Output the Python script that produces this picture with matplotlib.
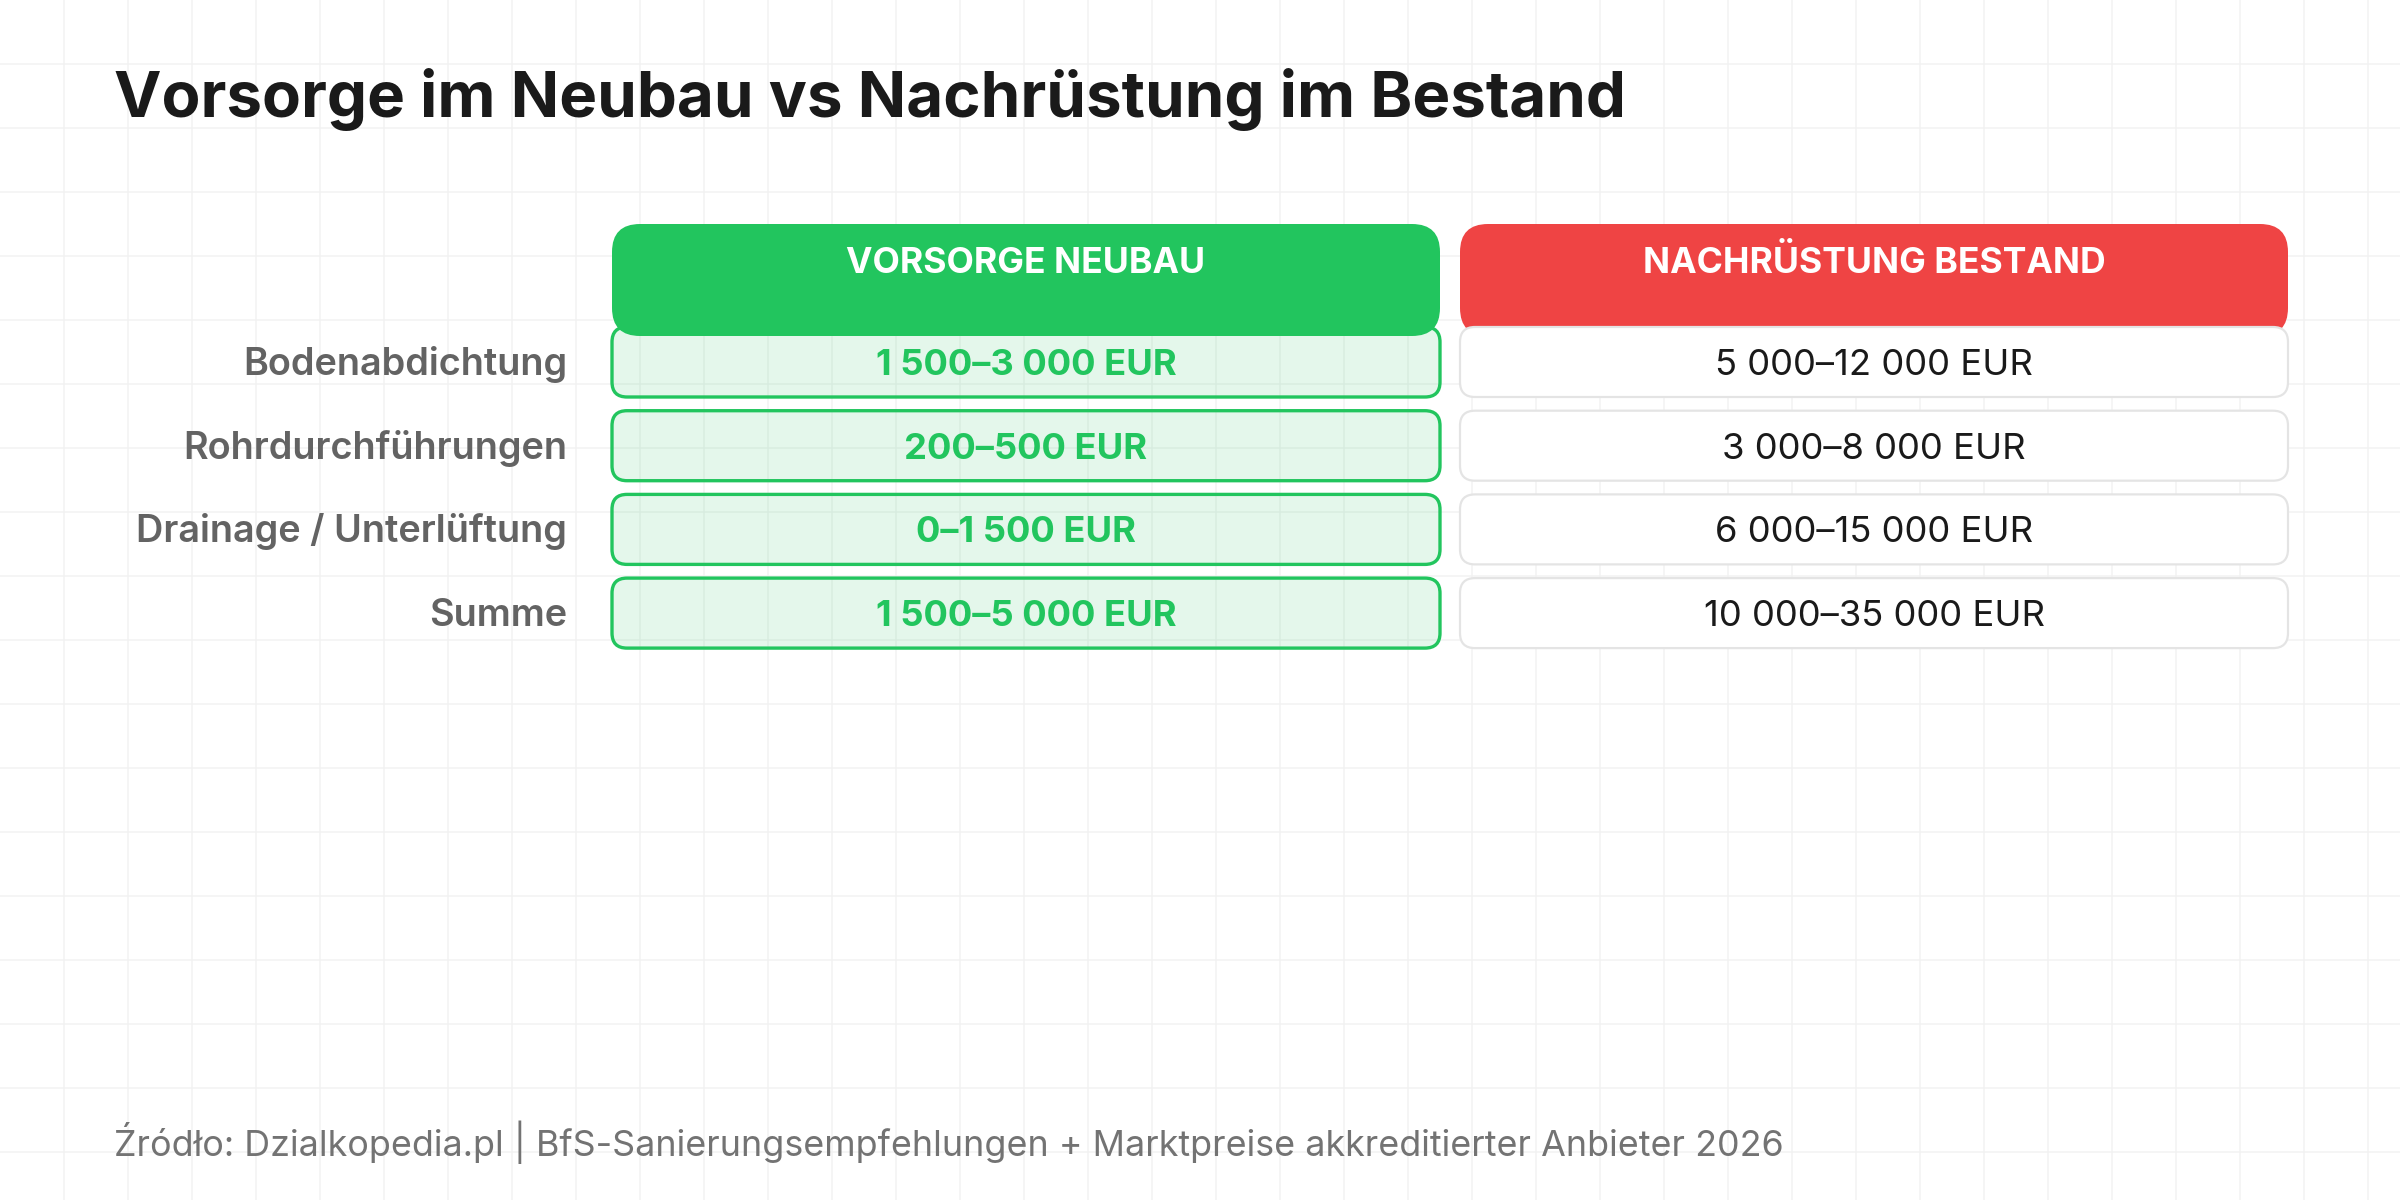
import matplotlib
matplotlib.use("Agg")
import matplotlib.pyplot as plt
from matplotlib.patches import FancyBboxPatch

plt.rcParams['font.family'] = ['Inter', 'DejaVu Sans']

title = "Vorsorge im Neubau vs Nachrüstung im Bestand"
columns = ["VORSORGE NEUBAU", "NACHRÜSTUNG BESTAND"]
categories = ["Bodenabdichtung", "Rohrdurchführungen", "Drainage / Unterlüftung", "Summe"]
neubau = ["1 500–3 000 EUR", "200–500 EUR", "0–1 500 EUR", "1 500–5 000 EUR"]
bestand = ["5 000–12 000 EUR", "3 000–8 000 EUR", "6 000–15 000 EUR", "10 000–35 000 EUR"]
source = "Źródło: Dzialkopedia.pl | BfS-Sanierungsempfehlungen + Marktpreise akkreditierter Anbieter 2026"

W, H = 2400, 1200
fig = plt.figure(figsize=(24, 12), dpi=100)
ax = fig.add_axes([0, 0, 1, 1])
ax.set_xlim(0, W)
ax.set_ylim(H, 0)
ax.axis('off')
fig.patch.set_facecolor('white')

# background grid
for gx in range(64, W, 64):
    ax.axvline(gx, color='#f2f2f2', lw=1.1, zorder=0)
for gy in range(64, H, 64):
    ax.axhline(gy, color='#f2f2f2', lw=1.1, zorder=0)

GREEN = '#22c55e'
RED = '#ef4444'

col_x = [612, 1460]
col_w = 828
head_top, head_h = 224, 112
row_top0, row_pitch, row_h = 327, 83.7, 70
cap = 26

ax.text(114, 117, title, fontsize=45.8, fontweight='bold', color='#1a1a1a', va='baseline', ha='left')

head_colors = [GREEN, RED]
for x0, name, c in zip(col_x, columns, head_colors):
    ax.add_patch(FancyBboxPatch((x0, head_top), col_w, head_h,
                                boxstyle="round,pad=0,rounding_size=28",
                                fc=c, ec='none', zorder=1))
    ax.text(x0 + col_w / 2, 273, name, fontsize=25.6, fontweight='bold', color='white',
            ha='center', va='baseline', zorder=5)

for i, (cat, nv, bv) in enumerate(zip(categories, neubau, bestand)):
    top = row_top0 + i * row_pitch
    cy = top + row_h / 2
    ax.text(567, cy + cap / 2, cat, fontsize=27.3, fontweight='semibold', color='#636363',
            ha='right', va='baseline', zorder=5)
    ax.add_patch(FancyBboxPatch((col_x[0], top), col_w, row_h,
                                boxstyle="round,pad=0,rounding_size=15",
                                fc=(0.133, 0.773, 0.369, 0.12), ec=GREEN, lw=2.4, zorder=2))
    ax.text(col_x[0] + col_w / 2, cy + cap / 2, nv, fontsize=26.2, fontweight='bold', color=GREEN,
            ha='center', va='baseline', zorder=5)
    ax.add_patch(FancyBboxPatch((col_x[1], top), col_w, row_h,
                                boxstyle="round,pad=0,rounding_size=15",
                                fc='white', ec='#e4e4e4', lw=1.6, zorder=2))
    ax.text(col_x[1] + col_w / 2, cy + cap / 2, bv, fontsize=26.2, fontweight='normal', color='#1a1a1a',
            ha='center', va='baseline', zorder=5)

ax.text(114, 1156, source, fontsize=25.8, fontweight='normal', color='#737373', ha='left', va='baseline')

fig.savefig('out.png', dpi=100, facecolor='white')
